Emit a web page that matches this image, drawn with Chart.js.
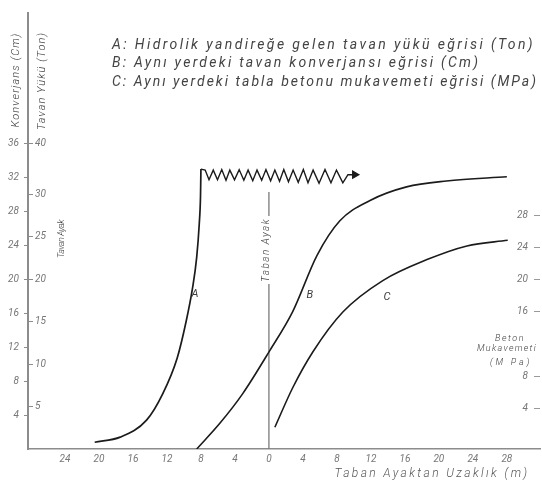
<!DOCTYPE html>
<html>
<head>
<meta charset="utf-8">
<script src="https://cdn.jsdelivr.net/npm/chart.js@4/dist/chart.umd.min.js"></script>
<style>
  html, body { margin: 0; padding: 0; background: #fff; }
  canvas { display: block; }
</style>
</head>
<body>
<canvas id="yuk" width="542" height="492"></canvas>
<script>
// tick values
const distanceTicks = [-24, -20, -16, -12, -8, -4, 0, 4, 8, 12, 16, 20, 24, 28];
const convergenceTicks = [4, 8, 12, 16, 20, 24, 28, 32, 36];
const loadTicks = [5, 10, 15, 20, 25, 30, 40];
const strengthTicks = [4, 8, 16, 20, 24, 28];

// A: tavan yükü (Ton) - rising part
const aDist = [-20.5, -17.5, -14.4, -12.5, -10.8, -9.75, -9.0, -8.5, -8.2, -8.05, -8.0];
const aLoad = [0.8, 1.4, 3.4, 6.5, 10.7, 15.0, 18.9, 22.6, 26.5, 29.8, 35.0];

// A: fluctuating load after the peak, ending in an arrow
const zigDist = [-8.0, -7.5, -7.05, -6.55, -6.05, -5.55, -5.05, -4.6, -4.05, -3.5, -2.95, -2.45, -1.9,
  -1.4, -0.85, -0.35, 0.2, 0.7, 1.25, 1.75, 2.3, 2.85, 3.45, 4.05, 4.6, 5.2, 5.9, 6.6, 7.3, 7.95, 8.7, 9.3, 10.1];
const zigLoad = [35.0, 34.8, 32.9, 34.8, 32.9, 34.9, 32.8, 34.8, 32.9, 34.9, 32.8, 34.8, 32.7,
  34.8, 32.8, 34.9, 32.7, 34.8, 32.6, 34.9, 32.5, 34.8, 32.4, 34.9, 32.3, 34.8, 32.2, 34.9, 32.3, 34.8, 32.3, 33.9, 33.9];

// B: tavan konverjansı (cm)
const bDist = [-8.5, -5.8, -3.1, 0.1, 2.8, 5.65, 8.35, 11.9, 16.2, 20.9, 28.0];
const bConv = [0, 3.0, 6.5, 11.6, 16.2, 22.8, 26.9, 29.3, 30.9, 31.6, 32.1];

// C: tabla betonu mukavemeti (MPa)
const cDist = [0.7, 2.8, 5.2, 8.7, 13.4, 18.6, 23.3, 28.1];
const cStrength = [1.7, 6.6, 11.1, 16.0, 19.9, 22.5, 24.2, 24.9];

// taban ayak line
const footDist = [0, 0];
const footConv = [0, 30.3];

const toPoints = (xs, ys) => xs.map((x, i) => ({ x, y: ys[i] }));

// the load axis is drawn compressed above 30 Ton (30 -> 40 takes 6 units of height)
const loadToAxis = v => v <= 30 ? v : 30 + (v - 30) * 0.6;
const axisToLoad = u => u <= 30 ? u : 30 + (u - 30) / 0.6;

const LinearScale = Chart.LinearScale || Chart.registry.getScale('linear');
class LoadScale extends LinearScale {
  getPixelForValue(value) {
    return super.getPixelForValue(value === null ? null : loadToAxis(value));
  }
  getValueForPixel(pixel) {
    return axisToLoad(super.getValueForPixel(pixel));
  }
}
LoadScale.id = 'load';
LoadScale.defaults = LinearScale.defaults;
Chart.register(LoadScale);

const hand = (size, weight) => `italic ${weight || 300} ${size}px Roboto, "DejaVu Sans", sans-serif`;

function note(ctx, text, x, y, o) {
  ctx.save();
  ctx.translate(x, y);
  if (o.rotate) ctx.rotate(o.rotate);
  ctx.font = hand(o.size, o.weight);
  ctx.fillStyle = o.color || '#3d3d3d';
  ctx.textAlign = o.align || 'left';
  ctx.textBaseline = 'middle';
  if (o.width) {
    const w = ctx.measureText(text).width;
    ctx.letterSpacing = ((o.width - w) / text.length).toFixed(2) + 'px';
  }
  ctx.fillText(text, 0, 0);
  ctx.restore();
}

const notes = {
  id: 'notes',
  afterDatasetsDraw(chart) {
    const ctx = chart.ctx;
    const sx = chart.scales.x, cm = chart.scales.cm, ton = chart.scales.ton, mpa = chart.scales.mpa;

    note(ctx, 'A: Hidrolik yandireğe gelen tavan yükü eğrisi (Ton)', 112, 45, { size: 14, weight: 400, width: 423, color: '#444' });
    note(ctx, 'B: Aynı yerdeki tavan konverjansı eğrisi (Cm)', 112, 63, { size: 14, weight: 400, width: 368, color: '#444' });
    note(ctx, 'C: Aynı yerdeki tabla betonu mukavemeti eğrisi (MPa)', 112, 82, { size: 14, weight: 400, width: 426, color: '#444' });

    note(ctx, 'Konverjans (Cm)', 16, 80, { size: 11, width: 95, rotate: -Math.PI / 2, align: 'center' });
    note(ctx, 'Tavan Yükü (Ton)', 42, 81, { size: 11, width: 98, rotate: -Math.PI / 2, align: 'center' });
    note(ctx, 'Tavan Ayak', 62, 239, { size: 9, width: 38, rotate: -Math.PI / 2, align: 'center' });

    // label sitting on the taban ayak line
    const fx = sx.getPixelForValue(0);
    ctx.fillStyle = '#fff';
    ctx.fillRect(fx - 6, 216, 12, 68);
    note(ctx, 'Taban Ayak', fx - 2, 250, { size: 10, width: 64, rotate: -Math.PI / 2, align: 'center' });

    note(ctx, 'A', sx.getPixelForValue(-8.7), ton.getPixelForValue(18.3), { size: 11, weight: 400, align: 'center' });
    note(ctx, 'B', sx.getPixelForValue(4.8), cm.getPixelForValue(18.1), { size: 11, weight: 400, align: 'center' });
    note(ctx, 'C', sx.getPixelForValue(13.9), mpa.getPixelForValue(17.8), { size: 11, weight: 400, align: 'center' });

    note(ctx, 'Beton', 510, 339, { size: 9, width: 30, align: 'center' });
    note(ctx, 'Mukavemeti', 507, 349, { size: 9, width: 60, align: 'center' });
    note(ctx, '(M Pa)', 511, 363, { size: 9, width: 42, align: 'center' });

    note(ctx, 'Taban Ayaktan Uzaklık (m)', 432, 474, { size: 12, width: 195, align: 'center', color: '#555' });
  }
};

const tickFont = { family: 'Roboto, "DejaVu Sans", sans-serif', size: 10, style: 'italic' };
const axisGray = '#8c8c8c';

new Chart(document.getElementById('yuk'), {
  type: 'line',
  data: {
    datasets: [
      {
        label: 'A',
        data: toPoints(aDist, aLoad),
        yAxisID: 'ton',
        borderColor: '#1b1b1b',
        borderWidth: 1.7,
        pointRadius: 0,
        cubicInterpolationMode: 'monotone'
      },
      {
        label: 'A',
        data: toPoints(zigDist, zigLoad),
        yAxisID: 'ton',
        borderColor: '#1b1b1b',
        borderWidth: 1.4,
        tension: 0,
        pointRadius: ctx => ctx.dataIndex === zigDist.length - 1 ? 4 : 0,
        pointStyle: 'triangle',
        rotation: 90,
        pointBackgroundColor: '#1b1b1b',
        pointBorderColor: '#1b1b1b'
      },
      {
        label: 'B',
        data: toPoints(bDist, bConv),
        yAxisID: 'cm',
        borderColor: '#1b1b1b',
        borderWidth: 1.6,
        pointRadius: 0,
        cubicInterpolationMode: 'monotone'
      },
      {
        label: 'C',
        data: toPoints(cDist, cStrength),
        yAxisID: 'mpa',
        borderColor: '#1b1b1b',
        borderWidth: 1.6,
        pointRadius: 0,
        cubicInterpolationMode: 'monotone'
      },
      {
        label: 'Taban Ayak',
        data: toPoints(footDist, footConv),
        yAxisID: 'cm',
        borderColor: '#7a7a7a',
        borderWidth: 1.3,
        pointRadius: 0,
        tension: 0
      }
    ]
  },
  options: {
    responsive: false,
    animation: false,
    events: [],
    layout: { autoPadding: false, padding: { top: 7, left: 0, right: 0, bottom: 0 } },
    plugins: {
      legend: { display: false },
      tooltip: { enabled: false }
    },
    scales: {
      x: {
        type: 'linear',
        position: 'bottom',
        min: -28.35,
        max: 31.9,
        afterBuildTicks: s => { s.ticks = distanceTicks.map(v => ({ value: v })); },
        afterFit: s => { s.height = 43; },
        grid: { display: false, drawTicks: false },
        border: { display: true, color: axisGray, width: 1.6 },
        ticks: {
          autoSkip: false,
          maxRotation: 0,
          padding: 4,
          color: '#777',
          font: tickFont,
          callback: v => String(Math.abs(v))
        }
      },
      cm: {
        type: 'linear',
        position: 'left',
        weight: 1,
        min: 0,
        max: 51.4,
        afterBuildTicks: s => { s.ticks = convergenceTicks.map(v => ({ value: v })); },
        afterFit: s => { s.width = 28; },
        grid: { display: true, drawOnChartArea: false, drawTicks: true, tickLength: 4, color: axisGray },
        border: { display: true, color: axisGray, width: 2 },
        ticks: { autoSkip: false, padding: 5, color: '#777', font: tickFont }
      },
      ton: {
        type: 'load',
        position: 'left',
        weight: 0,
        min: 0,
        max: 51.4,
        afterBuildTicks: s => { s.ticks = loadTicks.map(v => ({ value: v })); },
        afterFit: s => { s.width = 0; },
        grid: { display: true, drawOnChartArea: false, drawTicks: true, tickLength: -5, color: axisGray },
        border: { display: false },
        ticks: { autoSkip: false, mirror: true, padding: 7, color: '#777', font: tickFont }
      },
      mpa: {
        type: 'linear',
        position: 'right',
        min: -1,
        max: 53.1,
        afterBuildTicks: s => { s.ticks = strengthTicks.map(v => ({ value: v })); },
        afterFit: s => { s.width = 2; },
        grid: { display: true, drawOnChartArea: false, drawTicks: true, tickLength: -6, color: '#999' },
        border: { display: false },
        ticks: { autoSkip: false, mirror: true, padding: -12, color: '#777', font: tickFont }
      }
    }
  },
  plugins: [notes]
});
</script>
</body>
</html>
